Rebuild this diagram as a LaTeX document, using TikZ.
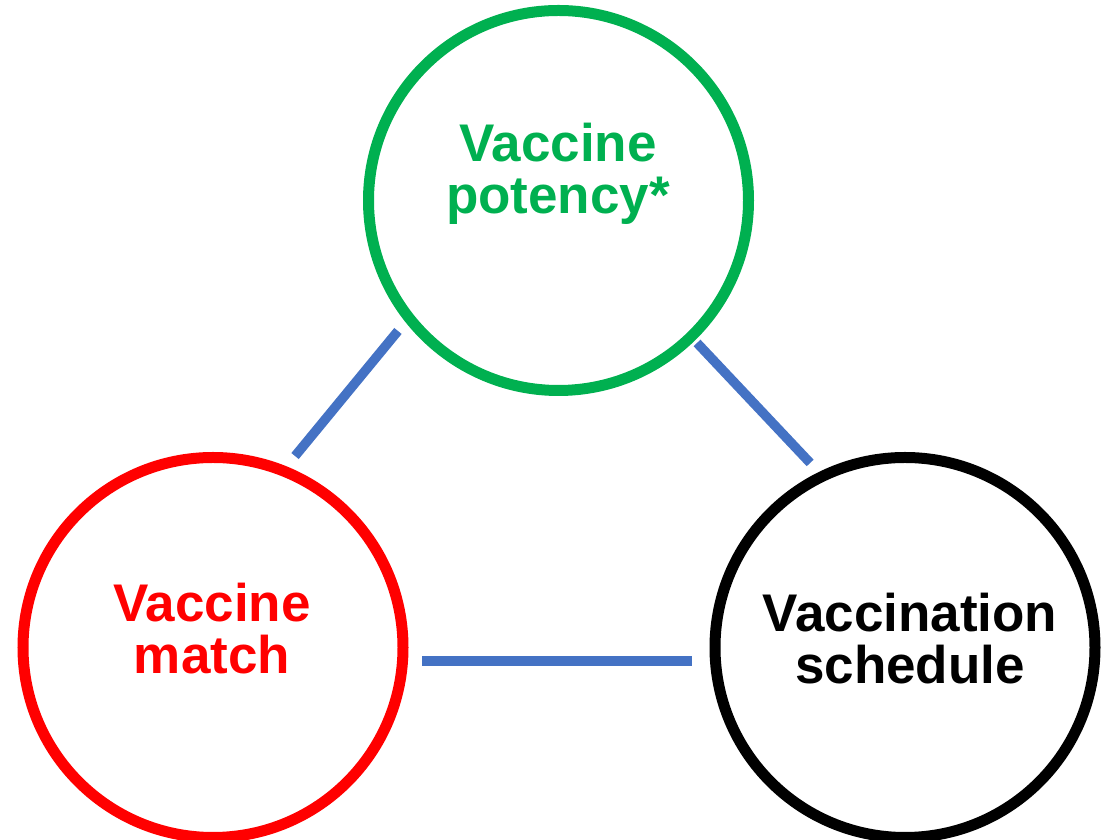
\documentclass[tikz,border=0pt]{standalone}
\usepackage{fontspec}
\setmainfont{Liberation Sans}
\usetikzlibrary{calc}
\definecolor{cgreen}{HTML}{00B050}
\definecolor{cblue}{HTML}{4472C4}
\begin{document}
\begin{tikzpicture}[x=1pt,y=1pt,
  ring/.style={circle, draw, line width=11pt, minimum size=380pt, inner sep=0pt},
  link/.style={draw=cblue, line width=9.5pt},
  lbl/.style={font=\fontsize{53}{52}\selectfont\bfseries, align=center, inner sep=0pt, anchor=north}]
\useasboundingbox (0,0) rectangle (1109,840);
\node[ring, draw=cgreen] (g) at (558.5,639.5) {};
\node[ring, draw=red] (r) at (213,192.5) {};
\node[ring, draw=black] (b) at (905,192.5) {};
\node[lbl, text=cgreen] (gt) at (558,717.5) {Vaccine\\potency*};
\node[lbl, text=red] (rt) at (212,257.5) {Vaccine\\match};
\node[lbl, text=black] (bt) at (910,247.5) {Vaccination\\schedule};
\draw[link] ($(g.center)+(219.1:206.9)$) -- ($(r.center)+(66.8:208.3)$);
\draw[link] ($(g.center)+(-45.8:198.7)$) -- ($(b.center)+(117.2:207.5)$);
\draw[link] ($(r.center)+(209,-13.5)$) -- ($(b.center)+(-213,-13.5)$);
\end{tikzpicture}
\end{document}
